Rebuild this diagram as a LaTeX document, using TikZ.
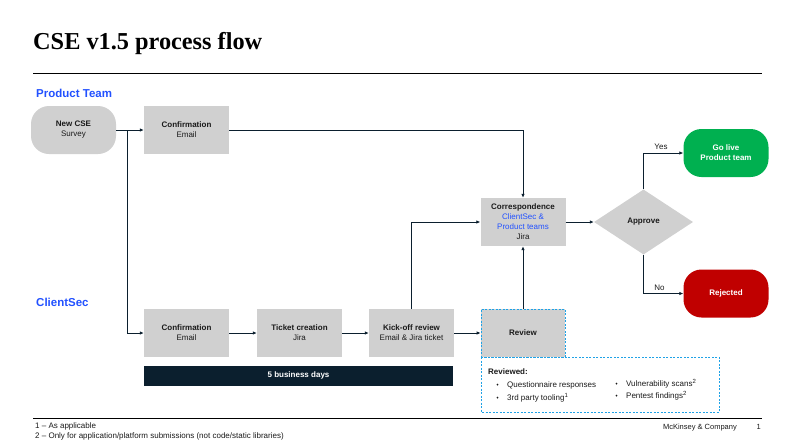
\documentclass[tikz,border=0pt]{standalone}
\usepackage{fontspec}
\setmainfont{Liberation Sans}
\newfontfamily\titlefont{Liberation Serif}
\usetikzlibrary{shapes.geometric,arrows.meta}
\definecolor{navy}{HTML}{0B1F2E}
\definecolor{boxgray}{HTML}{D0D0D0}
\definecolor{mckblue}{HTML}{2251FF}
\definecolor{golive}{HTML}{00B050}
\definecolor{reject}{HTML}{C00000}
\definecolor{dashblue}{HTML}{1FA2E6}
\definecolor{txt}{HTML}{1A1A1A}
\begin{document}
\begin{tikzpicture}[x=1pt,y=-1pt,
  box/.style={rectangle, fill=boxgray, minimum width=85pt, minimum height=48pt, inner sep=0pt, align=center, font=\fontsize{8}{10}\selectfont, text=txt},
  pill/.style={box, rounded corners=18pt},
  conn/.style={draw=navy, line width=0.8pt, -{Latex[length=4pt,width=3.5pt]}},
  lane/.style={font=\fontsize{11.5}{13}\selectfont\bfseries, text=mckblue, anchor=base west, inner sep=0pt},
  small/.style={font=\fontsize{8}{10}\selectfont, text=txt, inner sep=0pt},
  bul/.style={circle, fill=txt, minimum size=1.8pt, inner sep=0pt},
  dashbox/.style={draw=dashblue, line width=0.7pt, dash pattern=on 2pt off 1.5pt}
]
\useasboundingbox (0,0) rectangle (795,445);
% title and rules
\node[anchor=base west, inner sep=0pt, font=\titlefont\bfseries\fontsize{24.3}{28}\selectfont] (title) at (33,49.5) {CSE v1.5 process flow};
\draw[line width=0.9pt] (33,73) -- (762,73);
\draw[line width=0.9pt] (33,418) -- (762,418);
% lanes
\node[lane] (lanept) at (36,97.5) {Product Team};
\node[lane] (lanecs) at (36,306) {ClientSec};
% nodes
\node[pill] (newcse) at (73.5,130) {\textbf{New CSE}\\Survey};
\node[box] (conf1) at (186.5,130) {\textbf{Confirmation}\\Email};
\node[box] (corr) at (523,222) {\textbf{Correspondence}\\\textcolor{mckblue}{ClientSec \&}\\\textcolor{mckblue}{Product teams}\\Jira};
\node[diamond, fill=boxgray, minimum width=99pt, minimum height=65pt, inner sep=0pt, aspect=1.5, font=\fontsize{8}{10}\selectfont\bfseries, text=txt] (approve) at (643.5,222) {Approve};
\node[pill, fill=golive, text=white, font=\fontsize{8}{10}\selectfont\bfseries] (golive) at (726,153) {Go live\\Product team};
\node[pill, fill=reject, text=white, font=\fontsize{8}{10}\selectfont\bfseries] (rejected) at (726,293.5) {Rejected};
\node[box] (conf2) at (186.5,333) {\textbf{Confirmation}\\Email};
\node[box] (ticket) at (299.5,333) {\textbf{Ticket creation}\\Jira};
\node[box] (kick) at (411.5,333) {\textbf{Kick-off review}\\Email \& Jira ticket};
\node[box, dashbox, minimum width=84pt] (review) at (523,333) {\textbf{Review}};
% business days bar
\node[rectangle, fill=navy, minimum width=309pt, minimum height=20pt, inner sep=0pt, text=white, font=\fontsize{8}{10}\selectfont\bfseries] (days) at (298.5,375.5) {5 business days};
% reviewed box
\draw[dashbox] (481,357) rectangle (719,412);
\node[small, anchor=base west, font=\fontsize{8}{10}\selectfont\bfseries] (revd) at (488,374) {Reviewed:};
\node[bul] (b1) at (497.5,384.6) {};
\node[small, anchor=base west] (t1) at (507,387) {Questionnaire responses};
\node[bul] (b2) at (497.5,397.6) {};
\node[small, anchor=base west] (t2) at (507,400) {3rd party tooling\textsuperscript{1}};
\node[bul] (b3) at (616.5,383.6) {};
\node[small, anchor=base west] (t3) at (626,386) {Vulnerability scans\textsuperscript{2}};
\node[bul] (b4) at (616.5,395.6) {};
\node[small, anchor=base west] (t4) at (626,398) {Pentest findings\textsuperscript{2}};
% footnotes
\node[small, anchor=base west] (fn1) at (35,428) {1 -- As applicable};
\node[small, anchor=base west] (fn2) at (35,438) {2 -- Only for application/platform submissions (not code/static libraries)};
\node[small, anchor=base east, font=\fontsize{7.5}{9}\selectfont] (mck) at (737,429) {McKinsey \& Company};
\node[small, anchor=base east, font=\fontsize{7.5}{9}\selectfont] (pg) at (761,429) {1};
% connectors
\coordinate (split) at (127,130);
\draw[conn] (newcse.east) -- (conf1.west);
\draw[conn] (split) |- (conf2.west);
\draw[conn] (conf1.east) -| (corr.north);
\draw[conn] (conf2.east) -- (ticket.west);
\draw[conn] (ticket.east) -- (kick.west);
\draw[conn] (kick.east) -- (review.west);
\draw[conn] (kick.north) |- (corr.west);
\draw[conn] (review.north) -- (corr.south);
\draw[conn] (corr.east) -- (approve.west);
\draw[conn] (approve.north) |- node[pos=0.72, above=3pt, small] (yes) {Yes} (golive.west);
\draw[conn] (approve.south) |- node[pos=0.70, above=3pt, small] (no) {No} (rejected.west);
\end{tikzpicture}
\end{document}
